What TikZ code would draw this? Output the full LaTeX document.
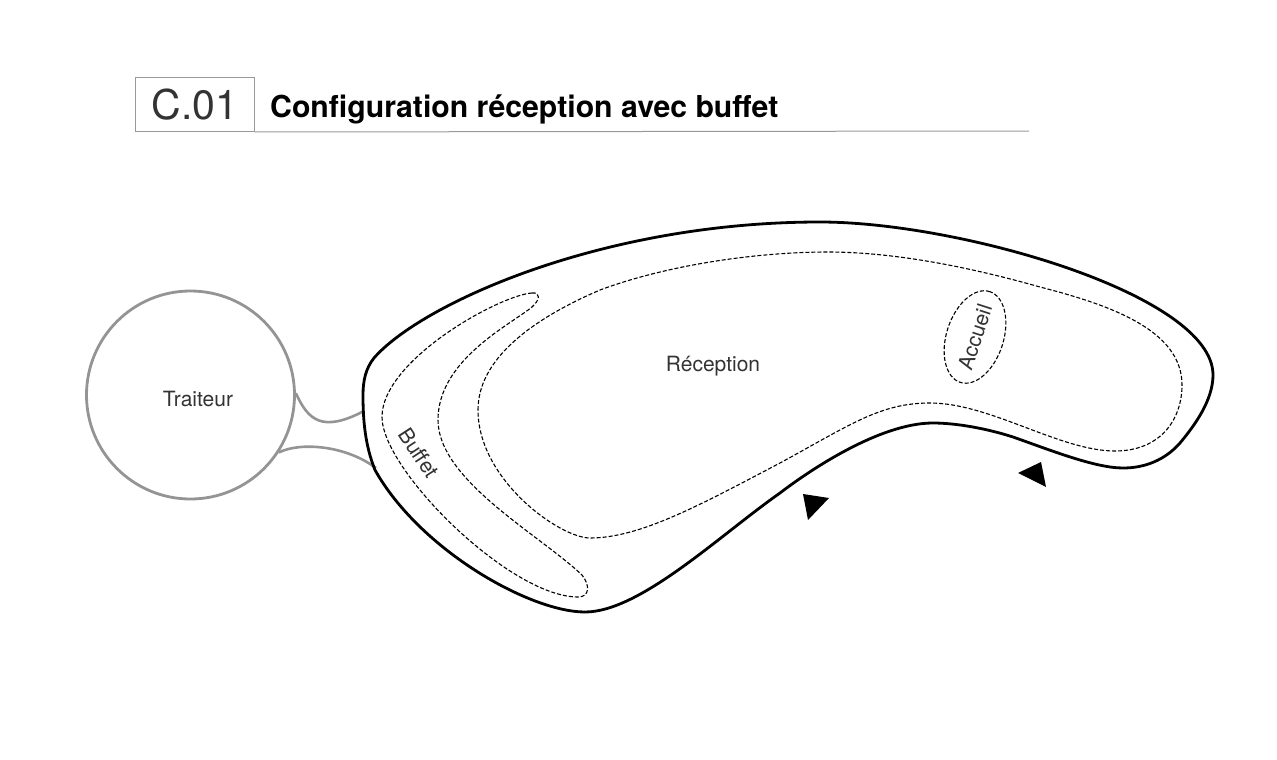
\documentclass[tikz,border=0pt]{standalone}
\usepackage{fontspec}
\setmainfont{TeX Gyre Heros}
\usetikzlibrary{shapes.geometric}
\definecolor{rule}{gray}{0.6}
\definecolor{ring}{gray}{0.58}
\definecolor{ink}{gray}{0.2}
\tikzset{
  room/.style={draw=black,line width=2.8pt,line join=round},
  zone/.style={draw=black,line width=1.1pt,dash pattern=on 4pt off 2pt},
  link/.style={draw=ring,line width=2.6pt},
  lbl/.style={font=\fontsize{21}{24}\selectfont,text=ink,inner sep=0pt},
  tri/.style={fill=black,draw=none}
}
\begin{document}
\begin{tikzpicture}[x=1pt,y=-1pt]
\useasboundingbox (0,0) rectangle (1277,760);
% header
\node[draw=rule,line width=1pt,minimum width=119pt,minimum height=54pt,inner sep=0pt,anchor=north west,font=\fontsize{41}{50}\selectfont,text=ink] (code) at (135,77) {C.01};
\coordinate (ruleend) at (1029,131);
\draw[rule,line width=1pt] (code.south east) -- (ruleend);
\node[anchor=base west,inner sep=0pt,font=\bfseries\fontsize{30.2}{34}\selectfont] (title) at (270,117) {Configuration réception avec buffet};
% links are drawn below the room outline
\node[circle,draw=ring,line width=2.8pt,minimum size=208pt,inner sep=0pt] (traiteur) at (190.5,395) {};
\node[lbl] (traiteurlabel) at (198,399) {Traiteur};
\coordinate (roomA) at (364,411);
\coordinate (roomB) at (376,468);
\draw[link] (traiteur.1) .. controls (308,420) and (322,433) .. (roomA);
\draw[link] (traiteur.-33) .. controls (300,442) and (345,445) .. (roomB);
% outer room
\draw[room] (374,358) .. controls (420,305) and (600,222) .. (820,222)
  .. controls (960,222) and (1213,295) .. (1213,375)
  .. controls (1213,400) and (1195,425) .. (1180,443)
  .. controls (1165,460) and (1145,468) .. (1123,468)
  .. controls (1095,468) and (1050,450) .. (1013,437)
  .. controls (985,428) and (955,423) .. (933,423)
  .. controls (880,423) and (810,470) .. (780,493)
  .. controls (720,535) and (640,612) .. (585,612)
  .. controls (530,612) and (420,550) .. (375,470)
  .. controls (365,445) and (363,420) .. (363,395)
  .. controls (363,380) and (366,368) .. (374,358) -- cycle;
% reception
\draw[zone] (478,410) .. controls (478,360) and (530,320) .. (600,290)
  .. controls (670,264) and (760,252) .. (828,252)
  .. controls (900,252) and (980,270) .. (1040,287)
  .. controls (1110,305) and (1182,330) .. (1182,385)
  .. controls (1182,420) and (1160,451) .. (1115,451)
  .. controls (1060,451) and (990,403) .. (930,403)
  .. controls (880,403) and (850,425) .. (780,463)
  .. controls (700,505) and (640,538) .. (590,538)
  .. controls (560,538) and (478,480) .. (478,410) -- cycle;
% buffet
\draw[zone] (532,293) .. controls (500,295) and (382,360) .. (382,417)
  .. controls (382,470) and (510,597) .. (578,597)
  .. controls (590,597) and (590,585) .. (582,575)
  .. controls (540,535) and (438,480) .. (438,420)
  .. controls (438,360) and (510,325) .. (532,307)
  .. controls (540,300) and (541,292) .. (532,293) -- cycle;
% labels
\node[lbl] (reception) at (713,366) {Réception};
\node[lbl,rotate=-57] (buffet) at (419,453) {Buffet};
\node[ellipse,zone,lbl,rotate=72,minimum width=86pt,minimum height=57pt] (accueil) at (975,337) {Accueil};
% arrows
\fill[tri] (803,494) -- (829,498) -- (808,520) -- cycle;
\fill[tri] (1041,462) -- (1018,473) -- (1046,487) -- cycle;
\end{tikzpicture}
\end{document}
